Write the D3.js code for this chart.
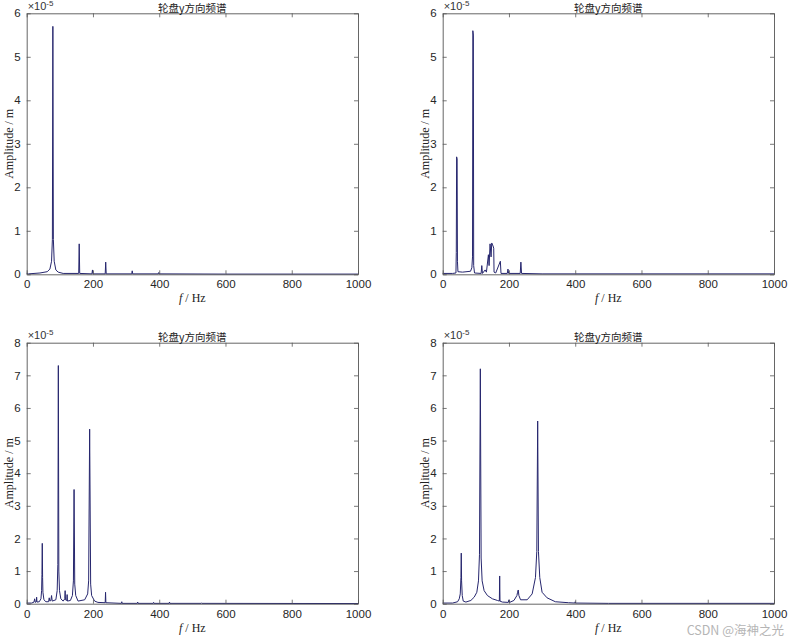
<!DOCTYPE html>
<html><head><meta charset="utf-8">
<script src="https://cdn.jsdelivr.net/npm/d3@7"></script>
<style>body{margin:0;background:#fff}svg{display:block}</style>
</head><body>
<script>
// Values in units of 1e-5 m
const titles = ["轮盘y方向频谱","轮盘y方向频谱","轮盘y方向频谱","轮盘y方向频谱"];
const xTicks = [0,200,400,600,800,1000];
const yMax = [6,6,8,8];
const spec1 = [[0,0.02],[5,0.01],[40,0.03],[62,0.06],[70,0.12],[75,0.3],[77.5,0.8],[79,5.7],[80.5,0.8],[83,0.3],[88,0.1],[95,0.05],[110,0.02],[157,0.02],[158.5,0.7],[160,0.02],[197,0.01],[198.5,0.1],[200,0.01],[237,0.01],[238.5,0.28],[240,0.01],[317,0.01],[318.5,0.08],[320,0.01],[397,0.01],[398.5,0.04],[400,0.01],[600,0.005],[1000,0.005]];
const spec2 = [[0,0.02],[30,0.02],[40,0.03],[41,0.5],[42,2.7],[43.5,2.65],[44.5,0.3],[46,0.06],[60,0.05],[84,0.07],[88,0.15],[90,0.4],[91,5.6],[92.5,5.5],[93.5,0.2],[96,0.03],[116,0.02],[118,0.2],[120,0.02],[128,0.1],[132,0.05],[138,0.45],[140,0.2],[143,0.7],[146,0.4],[148,0.72],[152,0.65],[154,0.6],[155,0.05],[160,0.03],[174,0.3],[176,0.02],[195,0.02],[197,0.12],[199,0.02],[234,0.02],[236,0.28],[238,0.02],[300,0.01],[400,0.01],[1000,0.01]];
const spec3 = [[0,0.02],[15,0.02],[22,0.05],[24,0.15],[26,0.04],[29,0.06],[30,0.2],[31,0.05],[38,0.06],[43,0.15],[45,0.4],[46,0.9],[47,1.85],[48,0.8],[49,0.35],[52,0.12],[58,0.06],[66,0.06],[68,0.18],[70,0.08],[73,0.1],[75,0.25],[77,0.08],[88,0.12],[92,0.4],[94,1.2],[95.5,7.3],[97,1.0],[99,0.4],[103,0.15],[110,0.08],[115,0.15],[116,0.4],[117,0.12],[121,0.1],[122,0.28],[123,0.08],[132,0.1],[138,0.25],[141,0.7],[143,3.5],[145,0.6],[148,0.25],[155,0.08],[175,0.12],[184,0.3],[187,0.7],[190,5.35],[193,0.6],[196,0.25],[205,0.08],[215,0.04],[237,0.03],[238,0.35],[239,0.03],[286,0.01],[287,0.06],[288,0.01],[334,0.01],[335,0.05],[336,0.01],[382,0.01],[383,0.04],[384,0.01],[430,0.01],[431,0.05],[432,0.01],[527,0.01],[528,0.02],[529,0.01],[1000,0.005]];
const spec4 = [[0,0.02],[30,0.02],[45,0.06],[50,0.15],[53,0.3],[55,0.8],[56,1.55],[57,0.7],[59,0.25],[62,0.08],[70,0.05],[85,0.1],[95,0.2],[103,0.35],[108,0.7],[111,1.5],[113.6,7.2],[116,1.4],[119,0.7],[125,0.4],[135,0.25],[150,0.15],[165,0.1],[171,0.08],[172,0.85],[173,0.08],[180,0.05],[198,0.04],[200,0.12],[202,0.04],[215,0.1],[224,0.25],[226,0.35],[228,0.42],[230,0.25],[235,0.12],[255,0.12],[270,0.3],[280,0.8],[284,1.6],[286.7,5.6],[289,1.6],[293,0.8],[300,0.35],[315,0.18],[340,0.06],[380,0.03],[399,0.02],[400,0.06],[401,0.02],[500,0.01],[1000,0.01]];
const specs = [spec1,spec2,spec3,spec4];

const W = 790, H = 638;
const boxes = [
  {l:26.7,r:358,t:13.3,b:274.3},
  {l:442.7,r:774,t:13.3,b:274.3},
  {l:26.7,r:358,t:342.7,b:603.7},
  {l:442.7,r:774,t:342.7,b:603.7}
];
const svg = d3.select("body").append("svg").attr("width",W).attr("height",H);
const lineColor = "#26266e";
const fmt = d3.format("d");

boxes.forEach((bx,i)=>{
  const x = d3.scaleLinear().domain([0,1000]).range([bx.l,bx.r]);
  const y = d3.scaleLinear().domain([0,yMax[i]]).range([bx.b,bx.t]);
  const yt = d3.range(0,yMax[i]+1);
  const g = svg.append("g");
  g.append("path").datum(specs[i])
    .attr("d", d3.line().x(d=>x(d[0])).y(d=>y(d[1])))
    .attr("fill","none").attr("stroke",lineColor).attr("stroke-width",1);
  const ax = [
    d3.axisBottom(x).tickValues(xTicks).tickSizeInner(-4).tickSizeOuter(0).tickPadding(6).tickFormat(fmt),
    d3.axisTop(x).tickValues(xTicks).tickSizeInner(-4).tickSizeOuter(0).tickFormat(""),
    d3.axisLeft(y).tickValues(yt).tickSizeInner(-4).tickSizeOuter(0).tickPadding(6).tickFormat(fmt),
    d3.axisRight(y).tickValues(yt).tickSizeInner(-4).tickSizeOuter(0).tickFormat("")
  ];
  const pos = [`translate(0,${bx.b})`,`translate(0,${bx.t})`,`translate(${bx.l},0)`,`translate(${bx.r},0)`];
  ax.forEach((a,k)=>{
    const ag = g.append("g").attr("transform",pos[k]).call(a);
    ag.select(".domain").attr("stroke","#555").attr("stroke-width",0.9);
    ag.selectAll(".tick line").attr("stroke","#555").attr("stroke-width",0.8);
    ag.selectAll(".tick text").attr("fill","#262626").style("font-family","Liberation Sans, Arial, sans-serif").style("font-size","11.5px");
  });
  const ex = g.append("text").attr("x",bx.l+1).attr("y",bx.t-3.5)
    .style("font-family","Liberation Sans, Arial, sans-serif").style("font-size","11px").attr("fill","#333");
  ex.append("tspan").text("×10");
  ex.append("tspan").text("-5").attr("dy",-4).style("font-size","8px");
  g.append("text").attr("x",(bx.l+bx.r)/2).attr("y",bx.t-1.8).attr("text-anchor","middle")
    .style("font-family","Noto Sans CJK SC, sans-serif").style("font-size","10.5px").attr("fill","#222").text(titles[i]);
  g.append("text").attr("transform",`translate(${bx.l-13.5},${(bx.t+bx.b)/2}) rotate(-90)`)
    .attr("text-anchor","middle")
    .style("font-family","Liberation Serif, Times New Roman, serif").style("font-size","12px").attr("fill","#222")
    .text("Amplitude / m");
  const xl = g.append("text").attr("x",(bx.l+bx.r)/2).attr("y",bx.b+28).attr("text-anchor","middle")
    .style("font-family","Liberation Serif, Times New Roman, serif").style("font-size","12px").attr("fill","#222");
  xl.append("tspan").text("f").style("font-style","italic");
  xl.append("tspan").text(" /  Hz");
});

svg.append("text").attr("x",784).attr("y",635).attr("text-anchor","end")
  .style("font-family","Noto Sans CJK SC, sans-serif").style("font-size","12.5px").attr("fill","#b5b5b5")
  .text("CSDN @海神之光");
</script>
</body></html>
